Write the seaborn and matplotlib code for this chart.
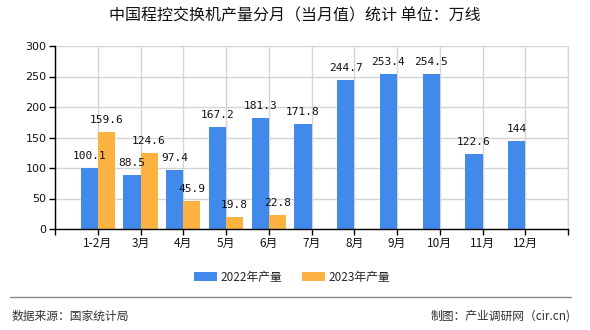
import matplotlib
matplotlib.use("Agg")
import matplotlib.pyplot as plt
import seaborn as sns
import pandas as pd
import numpy as np

months = ["1-2月", "3月", "4月", "5月", "6月", "7月", "8月", "9月", "10月", "11月", "12月"]
prod_2022 = [100.1, 88.5, 97.4, 167.2, 181.3, 171.8, 244.7, 253.4, 254.5, 122.6, 144]
prod_2023 = [159.6, 124.6, 45.9, 19.8, 22.8, None, None, None, None, None, None]
series_names = ["2022年产量", "2023年产量"]
colors = ["#418AEB", "#FBB240"]
y_ticks = [0, 50, 100, 150, 200, 250, 300]

sns.set_theme(style="white")
plt.rcParams['font.family'] = ['Noto Sans CJK SC', 'DejaVu Sans']

rows = []
for m, v in zip(months, prod_2022):
    rows.append({"month": m, "value": v, "series": series_names[0]})
for m, v in zip(months, prod_2023):
    rows.append({"month": m, "value": (np.nan if v is None else v), "series": series_names[1]})
df = pd.DataFrame(rows)

fig = plt.figure(figsize=(5.9, 3.3), dpi=100)
ax = fig.add_axes([55/590, 1-229/330, (568-55)/590, (229-46)/330])

sns.barplot(data=df, x="month", y="value", hue="series", order=months,
            hue_order=series_names, palette=colors, width=0.8, dodge=True,
            saturation=1, linewidth=0, edgecolor="none", gap=0,
            ax=ax, legend=True, zorder=3)

for c in ax.containers:
    ax.bar_label(c, fmt="{:g}", padding=5, fontsize=8,
                 family="DejaVu Sans Mono", color="#111111")

ax.set_xlim(-1, len(months))
ax.set_xticks(range(-1, len(months) + 1))
ax.set_xticklabels([""] + months + [""], fontsize=8.5, color="#111111")
ax.set_ylim(0, 300)
ax.set_yticks(y_ticks)
ax.set_yticklabels([str(t) for t in y_ticks], fontsize=8, family="DejaVu Sans", color="#111111")
ax.set_xlabel("")
ax.set_ylabel("")

ax.grid(True, axis="both", color="#d4d4d4", linewidth=1, zorder=0)
ax.axvline(len(months), color="#d4d4d4", linewidth=1, zorder=0, clip_on=False)
ax.set_axisbelow(True)
for s in ["top", "right"]:
    ax.spines[s].set_visible(False)
for s in ["left", "bottom"]:
    ax.spines[s].set_color("#000000")
    ax.spines[s].set_linewidth(1)
    ax.spines[s].set_zorder(4)
ax.tick_params(axis="both", which="major", direction="out", length=4, width=1,
               color="#000000", left=True, bottom=True, pad=2)

leg = ax.legend(loc="center", bbox_to_anchor=(292/590, 1-277/330),
                bbox_transform=fig.transFigure, ncol=2, frameon=False,
                fontsize=8.5, handlelength=2.0, handleheight=0.8,
                columnspacing=1.6, handletextpad=0.3)

fig.text(0.5, 1-16/330, "中国程控交换机产量分月（当月值）统计 单位：万线",
         ha="center", va="center", fontsize=11.5, color="#111111")
fig.add_artist(plt.Line2D([10/590, 571/590], [1-297/330, 1-297/330],
                          transform=fig.transFigure, color="#888888", linewidth=1))
fig.text(12/590, 1-316/330, "数据来源：国家统计局", ha="left", va="center",
         fontsize=8.5, color="#333333")
fig.text(571/590, 1-316/330, "制图：产业调研网（cir.cn)", ha="right", va="center",
         fontsize=8.5, color="#333333")

fig.savefig("out.png", dpi=100, facecolor="white")
